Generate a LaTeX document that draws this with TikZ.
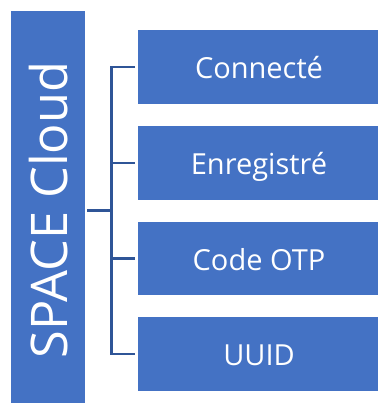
\documentclass[tikz,border=0pt]{standalone}
\usepackage{fontspec}
\setmainfont{Open Sans}
\definecolor{boxblue}{HTML}{4472C4}
\definecolor{linkblue}{HTML}{2F5597}
\begin{document}
\begin{tikzpicture}[x=1pt,y=-1pt,
  bluebox/.style={fill=boxblue,draw=none},
  boxtext/.style={text=white,font=\fontsize{29}{29}\selectfont,anchor=base,inner sep=0pt},
  link/.style={draw=linkblue,line width=2.2pt}]
\useasboundingbox (0,0) rectangle (379,403);
% left box
\path[bluebox] (11,11) rectangle (85,403);
\node[boxtext,font=\fontsize{50.5}{50.5}\selectfont,rotate=90] (title) at (67.5,210) {SPACE Cloud};
\coordinate (trunk) at (111.5,210.5);
% right boxes
\path[bluebox] (138,30) rectangle (378,104);
\path[bluebox] (138,126) rectangle (378,200);
\path[bluebox] (138,222) rectangle (378,295);
\path[bluebox] (138,317) rectangle (378,391);
\node[boxtext] (t1) at (259,78.5) {Connecté};
\node[boxtext] (t2) at (259,174.5) {Enregistré};
\node[boxtext] (t3) at (259,270) {Code OTP};
\node[boxtext] (t4) at (259,365.5) {UUID};
\coordinate (b1) at (135,67);
\coordinate (b2) at (135,163);
\coordinate (b3) at (135,258.5);
\coordinate (b4) at (135,354);
\coordinate (v1) at (111.5,67);
\coordinate (v2) at (111.5,163);
\coordinate (v3) at (111.5,258.5);
\coordinate (v4) at (111.5,354);
\coordinate (s) at (87,210.5);
\draw[link] (b1) -- (v1) -- (v4) -- (b4);
\draw[link] (v2) -- (b2);
\draw[link] (v3) -- (b3);
\draw[link] (s) -- (trunk);
\end{tikzpicture}
\end{document}
